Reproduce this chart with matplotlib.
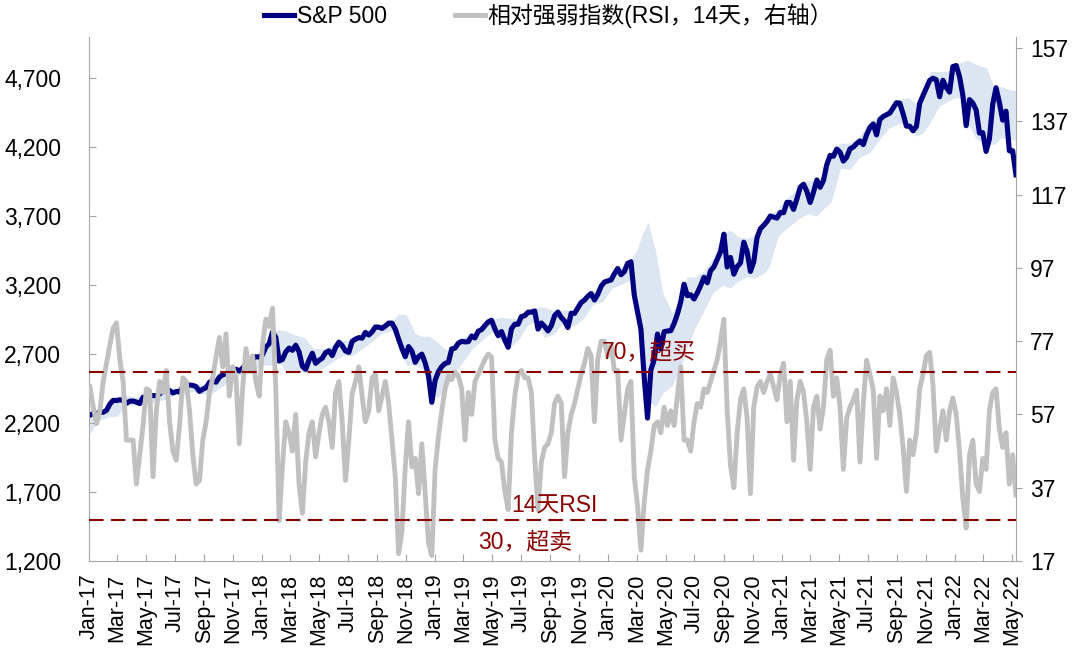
import matplotlib
matplotlib.use('Agg')
import matplotlib.pyplot as plt
import matplotlib.dates as mdates
from matplotlib.ticker import FuncFormatter
import pandas as pd

#fonts: latin first, CJK as fallback
plt.rcParams['font.family'] = ['Liberation Sans', 'Noto Sans CJK SC']
plt.rcParams['font.size'] = 16.5

#-------------------------------------------------------------------------------
# DATA (weekly, Tuesdays from 2017-01-03)
#-------------------------------------------------------------------------------
week_start = '2017-01-03'

sp_2017 = [2258, 2269, 2268, 2280, 2279, 2293, 2338, 2365, 2364, 2369, 2366, 2344, 2359,
           2360, 2353, 2342, 2388, 2391, 2397, 2400, 2398, 2412, 2429, 2440, 2437, 2419,
           2429, 2427, 2460, 2477, 2476, 2474, 2464, 2430, 2446, 2457, 2496, 2506, 2497,
           2534, 2550, 2559, 2569, 2575, 2591, 2578, 2599, 2627, 2630, 2664, 2681, 2680]
sp_2018 = [2695, 2751, 2777, 2860, 2822, 2650, 2662, 2716, 2744, 2728, 2765, 2717, 2613,
           2590, 2656, 2707, 2634, 2655, 2671, 2711, 2724, 2690, 2749, 2787, 2762, 2723,
           2713, 2793, 2809, 2820, 2816, 2858, 2839, 2862, 2897, 2896, 2887, 2904, 2925,
           2925, 2881, 2809, 2741, 2682, 2755, 2723, 2641, 2682, 2700, 2637, 2546, 2351]
sp_2019 = [2510, 2574, 2610, 2633, 2640, 2738, 2744, 2780, 2793, 2789, 2791, 2832, 2818,
           2867, 2878, 2907, 2934, 2946, 2884, 2834, 2864, 2803, 2750, 2885, 2917, 2917,
           2973, 2979, 3004, 3005, 3013, 2882, 2926, 2901, 2869, 2906, 2979, 3005, 2966,
           2940, 2893, 2996, 2996, 3036, 3075, 3092, 3120, 3140, 3093, 3133, 3192, 3223, 3231]
sp_2020 = [3238, 3283, 3321, 3276, 3298, 3358, 3370, 3128, 3003, 2882, 2529, 2237, 2585,
           2659, 2846, 2737, 2863, 2868, 2870, 2922, 2991, 3080, 3207, 3124, 3131, 3100,
           3145, 3197, 3257, 3218, 3306, 3333, 3389, 3443, 3570, 3332, 3401, 3280, 3335,
           3361, 3512, 3443, 3300, 3370, 3546, 3610, 3635, 3662, 3702, 3694, 3687, 3727]
sp_2021 = [3726, 3801, 3799, 3750, 3826, 3911, 3932, 3881, 3800, 3875, 3963, 3910, 3959,
           4074, 4141, 4135, 4187, 4165, 4100, 4128, 4189, 4202, 4227, 4246, 4220, 4291,
           4344, 4369, 4290, 4402, 4423, 4436, 4449, 4486, 4523, 4520, 4443, 4354, 4353,
           4320, 4351, 4520, 4575, 4631, 4685, 4701, 4690, 4567, 4686, 4634, 4600, 4786]
sp_2022 = [4793, 4713, 4577, 4357, 4546, 4521, 4471, 4304, 4306, 4170, 4262, 4512, 4632,
           4525, 4397, 4462, 4175, 4175, 4001]

rsi_2017 = [64.5, 59, 54.5, 58, 66, 71, 76, 80.5, 82, 72, 66, 50, 50, 50, 38, 46, 54, 64,
            63.5, 40, 58, 66, 63, 69, 55, 47, 44.5, 54, 67, 66, 58, 46, 38, 39, 50, 55,
            63, 67, 72.7, 78, 70, 79, 62, 70, 67, 49, 64, 75, 69, 73, 66, 62]
rsi_2018 = [76, 83, 81, 86, 64, 28, 43, 55, 52, 47, 57, 38, 30, 44, 52, 55, 45.4, 51.8,
            57, 59, 55, 48, 63, 66, 55, 39, 50, 62.7, 66, 70, 62, 55, 58, 67, 68, 58, 62,
            66, 60, 50, 40, 19, 25, 42.7, 55, 42.7, 45, 35.4, 49, 35.4, 22, 18.5]
rsi_2019 = [42, 51, 58, 64, 67.5, 66.5, 68.5, 67.5, 64, 50, 63, 57, 66, 68, 70, 72, 73.5,
            72.7, 50, 45, 44, 36, 31, 52, 62, 68, 69, 67, 67, 63, 45, 31, 44, 48, 49, 52,
            60, 62, 60, 40, 52, 57, 60, 64, 68, 71, 75, 73, 55, 72, 77, 77, 73]
rsi_2020 = [76, 69, 69, 50, 57, 64, 66, 40, 32, 20, 33, 42, 47, 54, 55, 52, 59, 54, 58,
            54, 62, 70, 50, 50, 47, 55, 60, 59, 64, 63, 66, 69, 72, 77, 83, 58, 43, 37,
            52, 61, 64, 56, 35.4, 59, 64.5, 66, 63, 66, 68, 64.5, 61, 68]
rsi_2021 = [71, 55, 66, 44.5, 61, 66, 63, 55, 42, 59, 62, 53, 59, 72, 74.5, 62, 67, 59,
            42, 56, 59, 61, 63.6, 44, 60, 71.8, 68, 63.6, 45, 62, 58, 64, 54, 67, 63, 57,
            48, 36, 50, 46, 52, 64, 68, 73, 74, 65, 47, 53, 58, 50, 58, 61.5]
rsi_2022 = [57, 47, 34, 26, 46, 50, 38, 36, 45, 42, 58, 63, 64, 53, 48, 52, 38, 46, 35]

#envelope around the index (light blue band)
band_dates = ['2017-01-03', '2017-01-20', '2017-02-10', '2017-03-01', '2017-03-20',
              '2017-04-10', '2017-05-01', '2017-05-20', '2017-06-10', '2017-07-01',
              '2017-07-20', '2017-08-10', '2017-08-30', '2017-09-20', '2017-10-10',
              '2017-11-01', '2017-11-20', '2017-12-10', '2017-12-30', '2018-01-20',
              '2018-02-05', '2018-02-20', '2018-03-10', '2018-03-31', '2018-04-20',
              '2018-05-10', '2018-06-01', '2018-06-20', '2018-07-10', '2018-08-01',
              '2018-08-20', '2018-09-10', '2018-10-01', '2018-10-15', '2018-11-01',
              '2018-11-20', '2018-12-05', '2018-12-20', '2019-01-05', '2019-01-25',
              '2019-02-10', '2019-02-28', '2019-03-20', '2019-04-10', '2019-04-30',
              '2019-05-20', '2019-06-05', '2019-06-25', '2019-07-15', '2019-08-01',
              '2019-08-20', '2019-09-10', '2019-09-30', '2019-10-20', '2019-11-10',
              '2019-11-30', '2019-12-20', '2020-01-10', '2020-01-30', '2020-02-20',
              '2020-03-01', '2020-03-12', '2020-03-25', '2020-04-10', '2020-04-25',
              '2020-05-15', '2020-06-01', '2020-06-15', '2020-07-01', '2020-07-20',
              '2020-08-10', '2020-08-30', '2020-09-15', '2020-10-01', '2020-10-20',
              '2020-11-05', '2020-11-25', '2020-12-05', '2020-12-25', '2021-01-15',
              '2021-02-05', '2021-02-25', '2021-03-15', '2021-04-01', '2021-04-15',
              '2021-05-05', '2021-05-25', '2021-06-15', '2021-07-05', '2021-07-25',
              '2021-08-15', '2021-09-05', '2021-09-25', '2021-10-10', '2021-10-25',
              '2021-11-10', '2021-11-30', '2021-12-15', '2022-01-01', '2022-01-15',
              '2022-01-28', '2022-02-15', '2022-03-08', '2022-03-25', '2022-04-10',
              '2022-04-25', '2022-05-10']
band_upper = [2300, 2290, 2310, 2390, 2400, 2390, 2395, 2410, 2440, 2450,
              2475, 2490, 2480, 2510, 2560, 2585, 2600, 2660, 2700, 2850,
              2880, 2870, 2840, 2820, 2740, 2740, 2770, 2800, 2800, 2840,
              2870, 2920, 2935, 2990, 2990, 2850, 2830, 2830, 2790, 2730,
              2760, 2820, 2850, 2910, 2950, 2970, 2960, 2960, 3020, 3040,
              3040, 3010, 3020, 3020, 3100, 3150, 3220, 3270, 3340, 3400,
              3450, 3560, 3660, 3450, 3150, 3000, 3080, 3260, 3260, 3300,
              3400, 3580, 3600, 3550, 3540, 3560, 3680, 3700, 3760, 3840,
              3900, 3960, 3960, 4000, 4170, 4230, 4230, 4280, 4390, 4420,
              4480, 4550, 4560, 4520, 4580, 4750, 4750, 4750, 4790, 4820,
              4830, 4800, 4780, 4640, 4640, 4620, 4610]
band_lower = [2120, 2215, 2245, 2250, 2330, 2330, 2325, 2355, 2370, 2405,
              2410, 2430, 2410, 2420, 2470, 2530, 2560, 2560, 2620, 2620,
              2660, 2560, 2580, 2570, 2560, 2600, 2650, 2690, 2690, 2740,
              2790, 2850, 2870, 2790, 2620, 2620, 2590, 2450, 2380, 2450,
              2560, 2640, 2740, 2800, 2860, 2800, 2740, 2800, 2910, 2940,
              2820, 2850, 2940, 2900, 2960, 3060, 3080, 3180, 3210, 3240,
              3020, 2650, 2360, 2320, 2420, 2470, 2600, 2750, 2880, 3010,
              3150, 3200, 3180, 3230, 3260, 3250, 3290, 3330, 3560, 3620,
              3680, 3720, 3700, 3760, 3800, 4050, 4040, 4130, 4160, 4250,
              4340, 4370, 4380, 4280, 4300, 4380, 4500, 4530, 4560, 4560,
              4380, 4260, 4220, 4220, 4270, 4260, 4250]

overbought_level = 68.5
oversold_level = 28.3

#-------------------------------------------------------------------------------
# PLOT
#-------------------------------------------------------------------------------
sp500 = sp_2017 + sp_2018 + sp_2019 + sp_2020 + sp_2021 + sp_2022
rsi = rsi_2017 + rsi_2018 + rsi_2019 + rsi_2020 + rsi_2021 + rsi_2022
weeks = pd.date_range(week_start, periods=len(sp500), freq='7D')
band_x = pd.to_datetime(band_dates)

axis_grey = '#A6A6A6'
dark_red = '#8B0000'

fig = plt.figure(figsize=(10.8, 6.63), dpi=100)
ax = fig.add_axes([0.0824, 0.1538, 0.8583, 0.7904])
ax2 = ax.twinx()

ax.fill_between(band_x, band_lower, band_upper, color='#DCE6F2', lw=0)
l1, = ax.plot(weeks, sp500, color='#000080', lw=3.7, solid_joinstyle='round')
l2, = ax2.plot(weeks, rsi, color='#C0C0C0', lw=3.5, solid_joinstyle='round')
ax2.axhline(overbought_level, color=dark_red, lw=1.5, ls=(0, (7, 3.5)), zorder=3)
ax2.axhline(oversold_level, color=dark_red, lw=1.5, ls=(0, (7, 3.5)), zorder=3)

#axes ranges and ticks
ax.set_xlim(pd.Timestamp('2017-01-01'), weeks[-1])
ax.set_ylim(1200, 5000)
ax.set_yticks(range(1200, 5000, 500))
ax.yaxis.set_major_formatter(FuncFormatter(lambda v, p: '{:,.0f}'.format(v)))
ax2.set_ylim(17, 160)
ax2.set_yticks(range(17, 158, 20))

ax.xaxis.set_major_locator(mdates.MonthLocator(bymonth=[1, 3, 5, 7, 9, 11]))
ax.xaxis.set_major_formatter(mdates.DateFormatter('%b-%y'))
for lab in ax.get_xticklabels():
    lab.set_rotation(90)
    lab.set_fontsize(15.5)

ax.tick_params(axis='y', direction='in', length=5, color=axis_grey, pad=20)
ax.tick_params(axis='x', direction='in', length=5, color=axis_grey, pad=9)
ax2.tick_params(axis='y', direction='out', length=4, color=axis_grey, pad=6)

for s in ['top', 'right']:
    ax.spines[s].set_visible(False)
for s in ['top', 'left', 'bottom']:
    ax2.spines[s].set_visible(False)
for s in ['left', 'bottom']:
    ax.spines[s].set_color(axis_grey)
ax2.spines['right'].set_color(axis_grey)

#labels of the RSI levels (on top of the lines)
ax2.text(0.553, 0.399, '70，超买', transform=ax2.transAxes, color=dark_red,
         va='center', ha='left', zorder=5)
ax2.text(0.456, 0.105, '14天RSI', transform=ax2.transAxes, color=dark_red,
         va='center', ha='left', zorder=5)
ax2.text(0.4197, 0.036, '30，超卖', transform=ax2.transAxes, color=dark_red,
         va='center', ha='left', zorder=5)

#legend on top
fig.legend([l1, l2], ['S&P 500', '相对强弱指数(RSI，14天，右轴）'], loc='center',
           bbox_to_anchor=(0.508, 0.976), ncol=2, frameon=False, handlelength=1.3,
           handletextpad=0.1, columnspacing=3.0)

fig.savefig('out.png', dpi=100)
